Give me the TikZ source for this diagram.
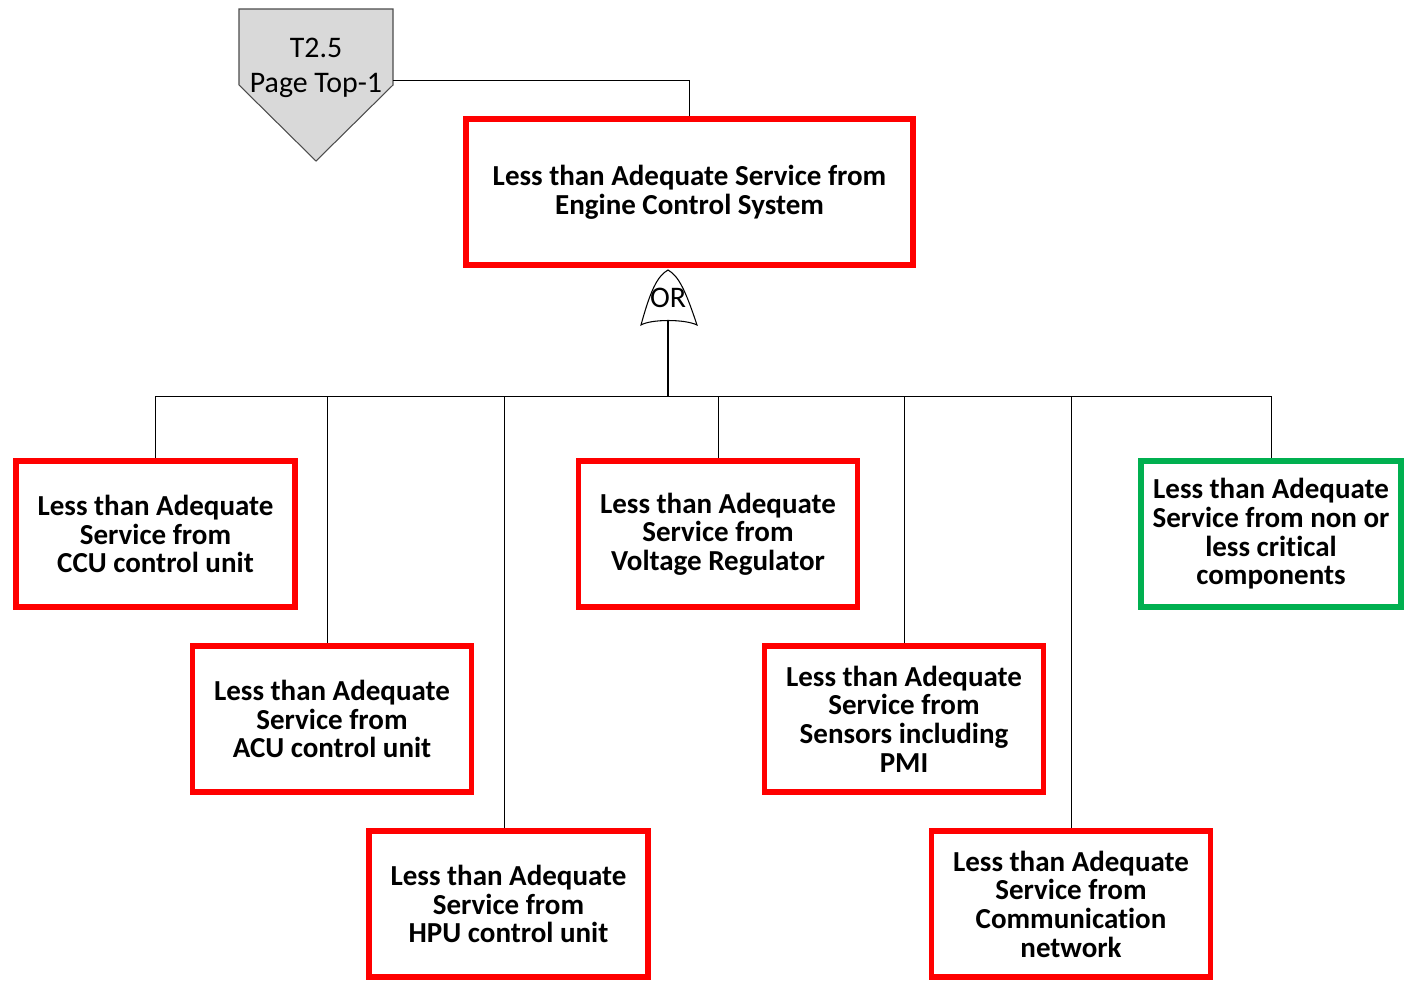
\documentclass[tikz,border=0pt]{standalone}
\usepackage{fontspec}
\setmainfont[Ligatures=NoCommon]{Carlito}
\usepackage{xcolor}
\usetikzlibrary{positioning, calc}
\definecolor{ftared}{HTML}{FF0000}
\definecolor{ftagreen}{HTML}{00B050}
\definecolor{xfergray}{HTML}{D9D9D9}

\tikzset{
  event/.style={draw=ftared, line width=3.2pt, align=center, inner sep=2pt,
    minimum width=5.58cm, minimum height=2.92cm, font=\fontsize{16.5}{16.3}\selectfont\bfseries},
  safe/.style={event, draw=ftagreen, minimum width=5.2cm},
  wire/.style={line width=0.55pt},
}

\begin{document}
\begin{tikzpicture}[x=0.02cm, y=-0.02cm]
  \useasboundingbox (0,0) rectangle (1405,981);
  % transfer-in triangle
  \draw[fill=xfergray, draw=black!70, line width=0.6pt]
    (239,9) -- (393,9) -- (393,85) -- (316,161) -- (239,85) -- cycle;
  \node (xfer) [align=center, font=\fontsize{17}{19.8}\selectfont] at (316,68) {T2.5\\Page Top-1};
  \coordinate (xferout) at (393,80);
  % top event
  \node (top) [event, minimum width=8.94cm] at (689.5,192) {Less than Adequate Service from\\Engine Control System};
  \draw[wire] (xferout) -| (top.north);
  % OR gate
  \draw[line width=0.6pt, fill=white]
    (641,325) .. controls (650,292) and (657,276) .. (668,270)
    .. controls (679,276) and (686,292) .. (697,325)
    .. controls (685,319) and (651,319) .. cycle;
  \node (orgate) [font=\fontsize{17}{19}\selectfont] at (668,298) {OR};
  \coordinate (orout) at (668,321);
  \coordinate (bus) at (668,396);
  \draw[line width=1.3pt] (orout) -- (bus);
  % basic events
  \node (ccu) [event] at (155.5,534) {Less than Adequate\\Service from\\CCU control unit};
  \node (acu) [event] at (332,719) {Less than Adequate\\Service from\\ACU control unit};
  \node (hpu) [event] at (508.5,904) {Less than Adequate\\Service from\\HPU control unit};
  \node (volt) [event] at (718,534) {Less than Adequate\\Service from\\Voltage Regulator};
  \node (sens) [event] at (904,719) {Less than Adequate\\Service from\\Sensors including\\PMI};
  \node (comm) [event] at (1071,904) {Less than Adequate\\Service from\\Communication\\network};
  \node (noncrit) [safe] at (1271,534) {Less than Adequate\\Service from non or\\less critical\\components};
  % branches
  \foreach \ev/\dx in {ccu/0, acu/-5, hpu/-4, volt/0, sens/0, comm/0, noncrit/0}
    \draw[wire] ([xshift=\dx*0.02cm]\ev.north) |- (bus);
\end{tikzpicture}
\end{document}
